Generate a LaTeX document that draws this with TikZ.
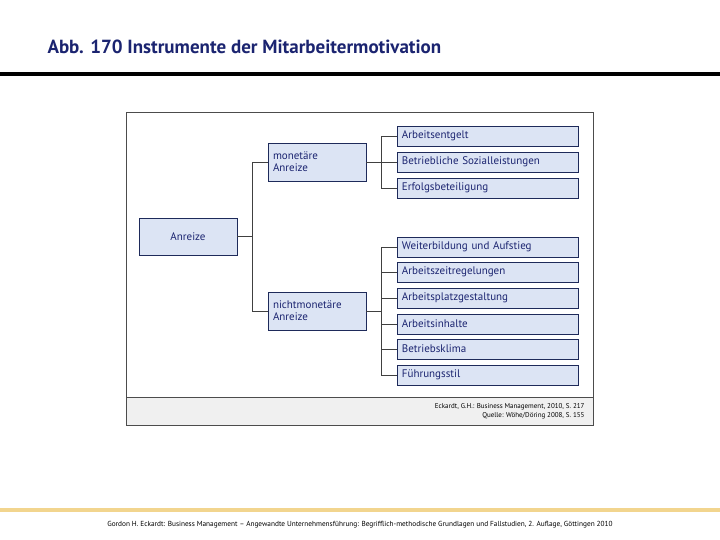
\documentclass[tikz,border=0pt]{standalone}
\usepackage{fontspec}
\setmainfont{PT Sans}
\usetikzlibrary{calc}
\definecolor{navy}{HTML}{1B2470}
\definecolor{boxfill}{HTML}{DCE4F4}
\definecolor{boxline}{HTML}{1E2A5A}
\definecolor{goldbar}{HTML}{F2D58E}
\tikzset{
  feld/.style={fill=boxfill,draw=boxline,line width=0.8pt,anchor=north west,
    text=navy,font=\fontsize{11}{12}\selectfont,inner sep=0pt},
  ast/.style={draw=black!75,line width=0.8pt}
}
\begin{document}
\begin{tikzpicture}[x=1pt,y=-1pt]
%
\def\bw{181}
\def\bh{20}
%
\useasboundingbox (0,0) rectangle (720,540);
\node[anchor=base west,text=navy,font=\bfseries\fontsize{19}{20}\selectfont] (titel) at (44,54) {Abb. 170 Instrumente der Mitarbeitermotivation};
\fill (0,72) rectangle (720,76);
%
\draw[black!70,line width=1pt] (126,113) rectangle (593,425);
\draw[black!70,fill=black!6,line width=1pt] (126,397) rectangle (593,425);
\node[anchor=east,font=\fontsize{7}{8.5}\selectfont,align=right] (quelle) at (588,411) {Eckardt, G.H.: Business Management, 2010, S. 217\\Quelle: Wöhe/Döring 2008, S. 155};
%
\node[feld,minimum width=98,minimum height=37,anchor=center] (anreize) at (188,236.5) {Anreize};
\node[feld,minimum width=98,minimum height=38,anchor=center,align=left,text width=88] (mon) at (317,162) {monetäre\\Anreize};
\node[feld,minimum width=98,minimum height=38,anchor=center,align=left,text width=88] (nmon) at (317,311) {nichtmonetäre\\Anreize};
%
\foreach \name/\y/\txt in {a1/136/Arbeitsentgelt,a2/162/Betriebliche Sozialleistungen,a3/188/Erfolgsbeteiligung}{
  \node[feld,minimum width=\bw,minimum height=\bh,anchor=west,text width=172,align=left] (\name) at (397,\y) {\txt};
}
\foreach \name/\y/\txt in {b1/247/Weiterbildung und Aufstieg,b2/272/Arbeitszeitregelungen,b3/298/Arbeitsplatzgestaltung,b4/324/Arbeitsinhalte,b5/349/Betriebsklima,b6/375/Führungsstil}{
  \node[feld,minimum width=\bw,minimum height=\bh,anchor=west,text width=172,align=left] (\name) at (397,\y) {\txt};
}
%
\draw[ast] (anreize.east) -- ++(15,0) coordinate (k0);
\draw[ast] (mon.west) -| (k0) |- (nmon.west);
\draw[ast] (mon.east) -- ++(15,0) coordinate (k1);
\draw[ast] (a1.west) -| (k1) |- (a3.west);
\draw[ast] (a2.west) -- (k1);
\draw[ast] (nmon.east) -- ++(15,0) coordinate (k2);
\draw[ast] (b1.west) -| (k2) |- (b6.west);
\foreach \name in {b2,b3,b4,b5}{\draw[ast] (\name.west) -- (\name.west-|k2);}
%
\fill[goldbar] (0,508) rectangle (720,512);
\node[font=\fontsize{7.3}{8}\selectfont] (fuss) at (360,525) {Gordon H. Eckardt: Business Management – Angewandte Unternehmensführung: Begrifflich-methodische Grundlagen und Fallstudien, 2. Auflage, Göttingen 2010};
\end{tikzpicture}
\end{document}
